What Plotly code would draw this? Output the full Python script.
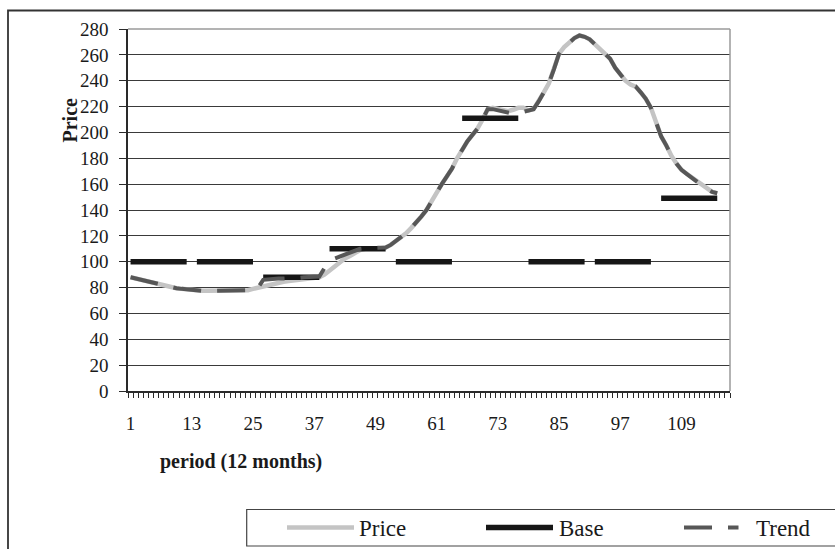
import plotly.graph_objects as go

# ---------------- data ----------------
periods = list(range(1, 117))

price = [88, 87, 86, 85, 84, 83, 82, 81, 80.5, 79.5,
         79, 78.5, 78, 78, 77.5, 77.5, 77.5, 77.5, 77.5, 77.5,
         77.5, 78, 78, 78, 79, 80, 80.5, 81.5, 83, 84,
         84.5, 85, 85.5, 86, 86.5, 87, 87.5, 88, 90, 93,
         97, 100, 102.5, 104.5, 106.5, 109, 110, 110, 110.5, 110.5,
         111, 113, 116, 118.5, 122, 126, 130, 135, 140, 147,
         153, 160, 166, 172, 180, 187, 193, 198, 203, 210,
         218, 219, 218, 217, 216.5, 217.5, 219, 219, 217, 218,
         224, 231, 238, 249, 261, 266, 270, 273, 275, 274,
         272, 268, 264, 261, 257, 250, 245, 240, 237, 235.5,
         231, 226, 219, 208, 197, 190, 182, 176, 171, 168,
         165, 162, 159, 156, 154, 153]

base = [100, 100, 100, 100, 100, 100, 100, 100, 100, 100, 100, 100, None,
        100, 100, 100, 100, 100, 100, 100, 100, 100, 100, 100, 100, None,
        88, 88, 88, 88, 88, 88, 88, 88, 88, 88, 88, 88, None,
        110, 110, 110, 110, 110, 110, 110, 110, 110, 110, 110, 110, None,
        100, 100, 100, 100, 100, 100, 100, 100, 100, 100, 100, 100, None,
        211, 211, 211, 211, 211, 211, 211, 211, 211, 211, 211, 211, None,
        100, 100, 100, 100, 100, 100, 100, 100, 100, 100, 100, 100, None,
        100, 100, 100, 100, 100, 100, 100, 100, 100, 100, 100, 100, None,
        149, 149, 149, 149, 149, 149, 149, 149, 149, 149, 149, 149]

trend = [88, 87, 86, 85, 84, 83, 82, 81, 80.5, 79.5,
         79, 78.5, 78, 78, 77.5, 77.5, 77.5, 77.5, 77.5, 77.5,
         77.5, 78, 78, 78, 79, 80, 86, 86.5, 87, 87,
         87, 87, 87.5, 87.5, 88, 88, 88, 88.5, 95, 101,
         102.5, 104, 105.5, 107, 108.5, 110, 110.5, 110.5, 110.5, 111,
         111, 113, 116, 118.5, 122, 126, 130, 135, 140, 147,
         153, 160, 166, 172, 180, 187, 193, 198, 203, 210,
         218, 218, 217, 216, 215, 214.5, 215, 216, 217, 218,
         224, 231, 238, 249, 261, 266, 270, 273, 275, 274,
         272, 268, 264, 261, 257, 250, 245, 240, 237, 235.5,
         231, 226, 219, 208, 197, 190, 182, 176, 171, 168,
         165, 162, 159, 156, 154, 153]

x_tick_vals = [1, 13, 25, 37, 49, 61, 73, 85, 97, 109]
x_tick_text = ["1", "13", "25", "37", "49", "61", "73", "85", "97", "109"]
y_tick_vals = [0, 20, 40, 60, 80, 100, 120, 140, 160, 180, 200, 220, 240, 260, 280]
y_tick_text = ["0", "20", "40", "60", "80", "100", "120", "140", "160", "180",
               "200", "220", "240", "260", "280"]
n_categories = 118
legend_names = ["Price", "Base", "Trend"]

# ---------------- layout helpers ----------------
W, H = 835, 549
L, R, T, B = 128, 730, 29, 391
FONT = "Liberation Serif, Times New Roman, serif"

def px(x):
    return (x - L) / (R - L)

def py(y):
    return (B - y) / (B - T)

C_PRICE = "#c4c4c4"
C_BASE = "#161616"
C_TREND = "#575757"
TREND_DASH = "28px,16px"

fig = go.Figure()
fig.add_trace(go.Scatter(x=periods, y=price, mode="lines", name=legend_names[0],
                         line=dict(color=C_PRICE, width=4.5), showlegend=False))
fig.add_trace(go.Scatter(x=periods, y=base, mode="lines", name=legend_names[1],
                         line=dict(color=C_BASE, width=5.5), connectgaps=False,
                         showlegend=False))
fig.add_trace(go.Scatter(x=periods, y=trend, mode="lines", name=legend_names[2],
                         line=dict(color=C_TREND, width=4, dash=TREND_DASH),
                         showlegend=False))

minor_ticks = [i + 0.5 for i in range(0, n_categories + 1)]

fig.update_layout(
    width=W, height=H,
    margin=dict(l=L, r=W - R, t=T, b=H - B, pad=0),
    paper_bgcolor="white", plot_bgcolor="white",
    font=dict(family=FONT, color="#1a1a1a"),
    xaxis=dict(
        range=[0.5, n_categories + 0.5],
        tickmode="array", tickvals=x_tick_vals, ticktext=x_tick_text,
        ticks="", showgrid=False, zeroline=False,
        showline=True, linecolor="#2a2a2a", linewidth=1.5,
        tickfont=dict(family=FONT, size=19, color="#1a1a1a"),
        ticklabelstandoff=14,
        minor=dict(tickmode="array", tickvals=minor_ticks, ticks="outside",
                   ticklen=5, tickwidth=1, tickcolor="#2a2a2a", showgrid=False),
    ),
    yaxis=dict(
        range=[0, 280],
        tickmode="array", tickvals=y_tick_vals, ticktext=y_tick_text,
        ticks="outside", ticklen=7, tickwidth=1, tickcolor="#2a2a2a",
        showgrid=True, gridcolor="#3a3a3a", gridwidth=1,
        zeroline=False,
        showline=True, linecolor="#2a2a2a", linewidth=1.5,
        tickfont=dict(family=FONT, size=19, color="#1a1a1a"),
        ticklabelstandoff=7,
    ),
)

shapes = []
# outer chart frame (cropped on right and bottom)
shapes.append(dict(type="rect", xref="paper", yref="paper",
                   x0=px(8), x1=px(850), y0=py(10.5), y1=py(570),
                   line=dict(color="#333333", width=1.8), layer="above"))
# plot-area top and right border (gray)
shapes.append(dict(type="line", xref="paper", yref="paper",
                   x0=0, x1=1, y0=1, y1=1,
                   line=dict(color="#9a9a9a", width=1.5), layer="above"))
shapes.append(dict(type="line", xref="paper", yref="paper",
                   x0=1, x1=1, y0=0, y1=1,
                   line=dict(color="#9a9a9a", width=1.5), layer="above"))
# legend box
shapes.append(dict(type="rect", xref="paper", yref="paper",
                   x0=px(246.7), x1=px(860), y0=py(509.5), y1=py(546),
                   line=dict(color="#444444", width=1.2), layer="above"))
# legend swatches
ly = 527.5
shapes.append(dict(type="line", xref="paper", yref="paper",
                   x0=px(287), x1=px(354), y0=py(ly), y1=py(ly),
                   line=dict(color=C_PRICE, width=4.5)))
shapes.append(dict(type="line", xref="paper", yref="paper",
                   x0=px(486), x1=px(553), y0=py(ly), y1=py(ly),
                   line=dict(color=C_BASE, width=5.5)))
shapes.append(dict(type="line", xref="paper", yref="paper",
                   x0=px(684), x1=px(738.5), y0=py(ly), y1=py(ly),
                   line=dict(color=C_TREND, width=4, dash=TREND_DASH)))
fig.update_layout(shapes=shapes)

annotations = []
for name, xpos in zip(legend_names, [357, 556.5, 753.5]):
    annotations.append(dict(text=name, xref="paper", yref="paper",
                            x=px(xpos), y=py(528.5), xanchor="left", yanchor="middle",
                            showarrow=False,
                            font=dict(family=FONT, size=23, color="#1a1a1a")))
annotations.append(dict(text="<b>Price</b>", xref="paper", yref="paper",
                        x=px(69.5), y=py(120), xanchor="center", yanchor="middle",
                        textangle=-90, showarrow=False,
                        font=dict(family=FONT, size=20, color="#1a1a1a")))
annotations.append(dict(text="<b>period (12 months)</b>", xref="paper", yref="paper",
                        x=px(241), y=py(461.5), xanchor="center", yanchor="middle",
                        showarrow=False,
                        font=dict(family=FONT, size=20, color="#1a1a1a")))
fig.update_layout(annotations=annotations)

fig.write_html("out.html",
               config={"displayModeBar": False},
               post_script="document.body.style.margin='0';"
                           "document.body.style.overflow='hidden';")
